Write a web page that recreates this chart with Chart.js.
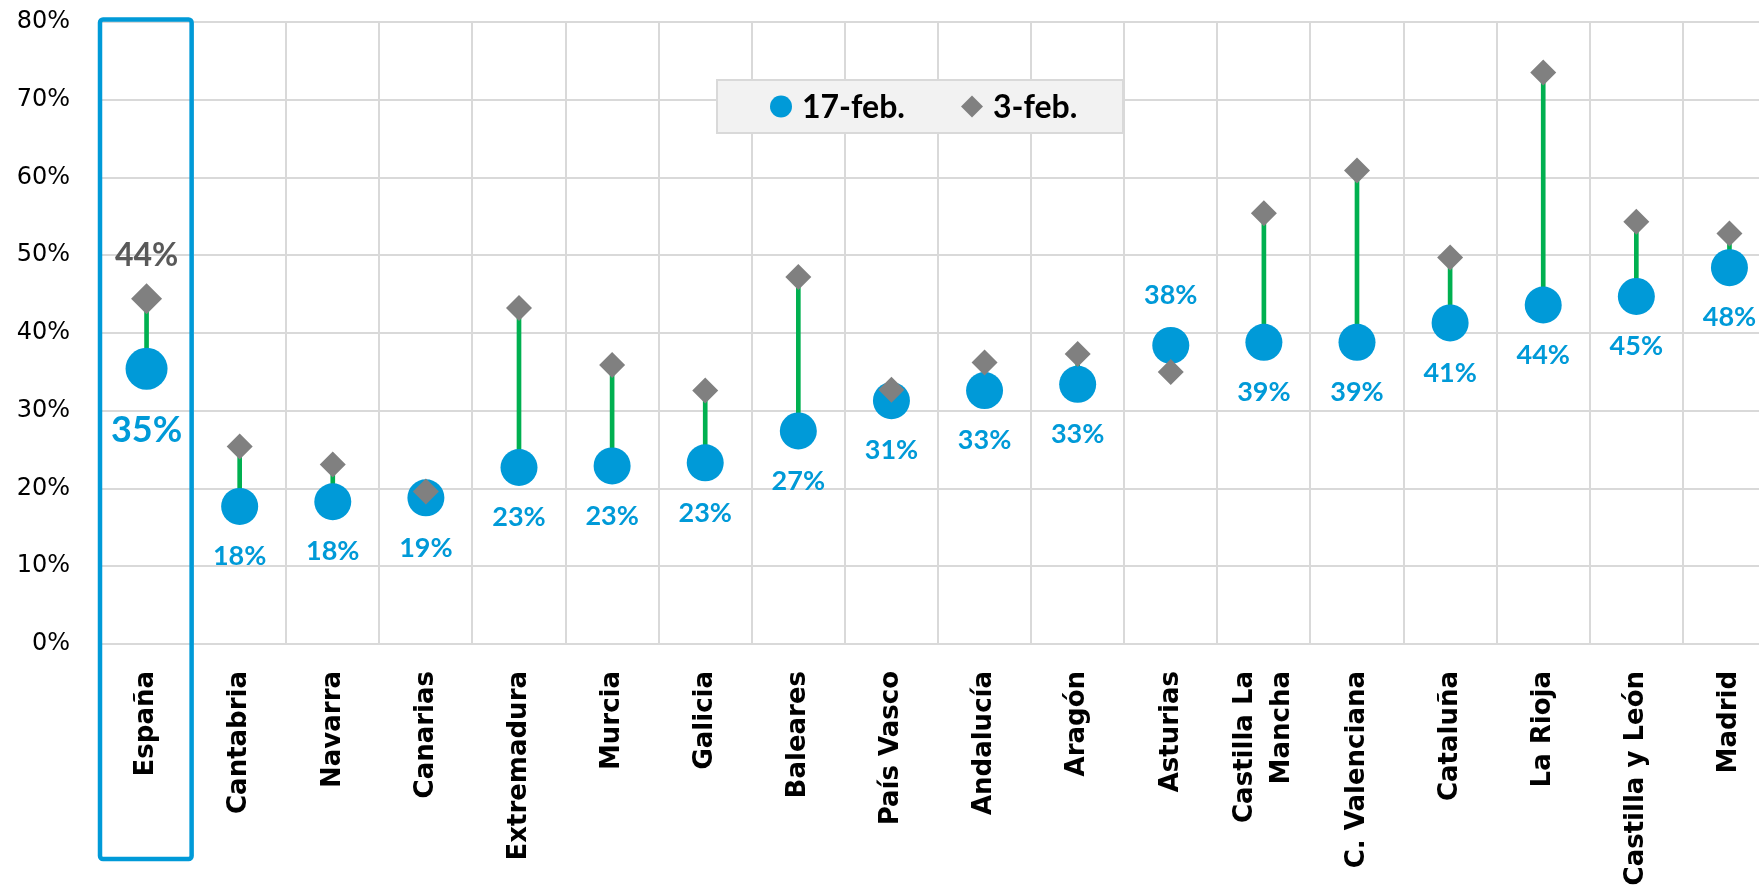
<!DOCTYPE html>
<html>
<head>
<meta charset="utf-8">
<script src="https://cdn.jsdelivr.net/npm/chart.js@4/dist/chart.umd.min.js"></script>
<style>
html, body { margin:0; padding:0; overflow:hidden; background:#fff; width:1759px; height:888px; }
#wrap { position:absolute; left:0; top:0; width:1776px; height:888px; }
</style>
</head>
<body>
<div id="wrap"><canvas id="c"></canvas></div>
<script>
// ---- data ----
const categories = ['España','Cantabria','Navarra','Canarias','Extremadura','Murcia','Galicia','Baleares',
  'País Vasco','Andalucía','Aragón','Asturias',['Castilla La','Mancha'],'C. Valenciana','Cataluña',
  'La Rioja','Castilla y León','Madrid'];
const feb17 = [35.4, 17.7, 18.3, 18.8, 22.7, 22.9, 23.3, 27.4, 31.3, 32.6, 33.4, 38.4, 38.8, 38.8, 41.3, 43.6, 44.7, 48.4];
const feb3  = [44.4, 25.4, 23.1, 19.6, 43.2, 35.9, 32.6, 47.2, 32.7, 36.2, 37.3, 35.0, 55.4, 60.9, 49.7, 73.5, 54.3, 52.8];
const seriesNames = ['17-feb.', '3-feb.'];
const yMin = 0, yMax = 80, yStep = 10;

// ---- styles ----
const BLUE = '#009ad8', GRAY = '#808080', GREEN = '#00b050', GRID = '#d9d9d9';
const connectors = categories.map((_, i) => [feb17[i], feb3[i]]);

// centre multi-line rotated tick labels on their tick
const centreMultiline = {
  id: 'centreMultiline',
  beforeDraw(chart) {
    const x = chart.scales.x;
    const items = x.getLabelItems(chart.chartArea);
    items.forEach(it => {
      if (Array.isArray(it.label) && !it._centred) {
        const lh = it.font.lineHeight;
        it.options.translation[0] -= lh * (it.label.length - 1) / 2;
        it._centred = true;
      }
    });
  }
};

const highlightBox = {
  id: 'highlightBox',
  afterDatasetsDraw(chart) {
    const {ctx, scales: {x, y}} = chart;
    const cx = x.getPixelForValue(0);
    const half = (x.getPixelForValue(1) - cx) / 2;
    const left = cx - half, right = cx + half - 1.5;
    const top = y.getPixelForValue(yMax) - 2.5, bottom = chart.height - 29;
    ctx.save();
    ctx.strokeStyle = BLUE; ctx.lineWidth = 4.5;
    ctx.beginPath();
    ctx.roundRect(left, top, right - left, bottom - top, 3);
    ctx.stroke();
    ctx.restore();
  }
};

const valueLabels = {
  id: 'valueLabels',
  afterDatasetsDraw(chart) {
    const ctx = chart.ctx;
    const m3 = chart.getDatasetMeta(0), m17 = chart.getDatasetMeta(1);
    ctx.save();
    ctx.textAlign = 'center'; ctx.textBaseline = 'middle';
    feb17.forEach((v, i) => {
      const p = m17.data[i];
      const big = i === 0;
      ctx.font = 'bold ' + (big ? 36 : 27) + 'px Lato';
      ctx.fillStyle = BLUE;
      const above = feb3[i] < v;
      const off = big ? 62 : 50;
      ctx.fillText(Math.round(v) + '%', p.x, p.y + (above ? -off : off));
    });
    const q = m3.data[0];
    ctx.font = 'bold 32px Lato';
    ctx.fillStyle = '#595959';
    ctx.fillText(Math.round(feb3[0]) + '%', q.x, q.y - 43);
    ctx.restore();
  }
};

const boxLegend = {
  id: 'boxLegend',
  afterDatasetsDraw(chart) {
    const ctx = chart.ctx;
    const L = {x: 717, y: 80, w: 406, h: 53};
    const cy = L.y + L.h / 2;
    ctx.save();
    ctx.fillStyle = '#f2f2f2';
    ctx.fillRect(L.x, L.y, L.w, L.h);
    ctx.strokeStyle = GRID; ctx.lineWidth = 2;
    ctx.strokeRect(L.x, L.y, L.w, L.h);
    ctx.fillStyle = BLUE;
    ctx.beginPath(); ctx.arc(781, cy, 11, 0, Math.PI * 2); ctx.fill();
    ctx.fillStyle = GRAY;
    ctx.beginPath();
    ctx.moveTo(972 - 11, cy); ctx.lineTo(972, cy - 11); ctx.lineTo(972 + 11, cy); ctx.lineTo(972, cy + 11);
    ctx.closePath(); ctx.fill();
    ctx.fillStyle = '#000';
    ctx.font = 'bold 32px Lato';
    ctx.textAlign = 'left'; ctx.textBaseline = 'middle';
    ctx.fillText(seriesNames[0], 802, cy + 1);
    ctx.fillText(seriesNames[1], 993, cy + 1);
    ctx.restore();
  }
};

new Chart(document.getElementById('c'), {
  type: 'bar',
  data: {
    labels: categories,
    datasets: [
      { type: 'line', label: seriesNames[1], data: feb3, showLine: false,
        pointStyle: 'rectRot', pointRadius: categories.map((_, i) => i === 0 ? 15.5 : 13),
        pointBackgroundColor: GRAY, pointBorderWidth: 0, pointHoverRadius: 13, order: 0 },
      { type: 'line', label: seriesNames[0], data: feb17, showLine: false,
        pointStyle: 'circle', pointRadius: categories.map((_, i) => i === 0 ? 21 : 18.5),
        pointBackgroundColor: BLUE, pointBorderWidth: 0, pointHoverRadius: 18.5, order: 1 },
      { type: 'bar', label: 'cambio', data: connectors, backgroundColor: GREEN,
        barThickness: 4, borderWidth: 0, order: 2 }
    ]
  },
  options: {
    responsive: true,
    maintainAspectRatio: false,
    animation: false,
    devicePixelRatio: 1,
    layout: { autoPadding: false, padding: { top: 22, left: 0, right: 0, bottom: 0 } },
    plugins: { legend: { display: false }, tooltip: { enabled: false } },
    scales: {
      x: {
        offset: true,
        grid: { offset: true, color: GRID, lineWidth: 2, drawTicks: true, tickLength: 27, tickColor: 'rgba(0,0,0,0)' },
        border: { display: false },
        ticks: { autoSkip: false, minRotation: 90, maxRotation: 90, padding: 0, color: '#000',
          font: { family: 'DejaVu Sans', weight: 'bold', size: 26, lineHeight: 1.4 } },
        afterFit(s) { s.height = 244; s.paddingLeft = 0; s.paddingRight = 0; }
      },
      y: {
        min: yMin, max: yMax,
        grid: { color: GRID, lineWidth: 2, drawTicks: true, tickLength: 30, tickColor: 'rgba(0,0,0,0)' },
        border: { display: false },
        ticks: { stepSize: yStep, padding: 0, color: '#000', callback: v => v + '%',
          font: { family: 'DejaVu Sans', size: 24 } },
        afterFit(s) { s.width = 100; }
      }
    }
  },
  plugins: [centreMultiline, highlightBox, valueLabels, boxLegend]
});
</script>
</body>
</html>
